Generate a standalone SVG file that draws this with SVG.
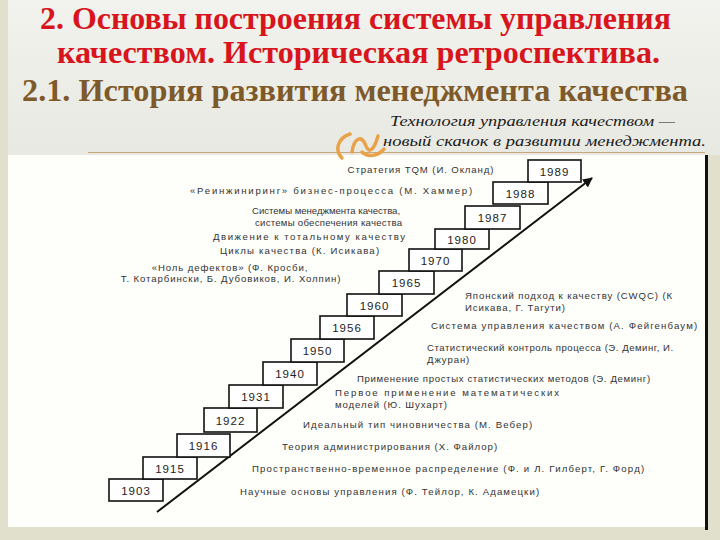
<svg xmlns="http://www.w3.org/2000/svg" width="720" height="540" viewBox="0 0 720 540">
<defs>
<linearGradient id="topbg" x1="0" y1="0" x2="0" y2="1">
<stop offset="0" stop-color="#f2f2ee"/>
<stop offset="1" stop-color="#e9e9e3"/>
</linearGradient>
<marker id="ah" viewBox="0 0 10 10" refX="9" refY="5" markerWidth="5" markerHeight="5" orient="auto" markerUnits="strokeWidth">
<path d="M0,0 L10,5 L0,10 z" fill="#111"/>
</marker>
<style>
.t1{font-family:"Liberation Serif","DejaVu Serif","Times New Roman",serif;font-weight:bold;font-size:31px;fill:#d8141c}
.t2{font-family:"Liberation Serif","DejaVu Serif","Times New Roman",serif;font-weight:bold;font-size:32px;fill:#7e5a2a}
.it{font-family:"Liberation Serif","DejaVu Serif","Times New Roman",serif;font-style:italic;font-size:15px;fill:#1a1a1a}
.box{fill:#ffffff;stroke:#111;stroke-width:1.6}
.yr{font-family:"Liberation Sans",Arial,sans-serif;font-size:11.5px;fill:#222;text-anchor:middle;letter-spacing:1px}
.lb{font-family:"Liberation Sans",Arial,sans-serif;font-size:9.6px;fill:#333;letter-spacing:0.9px}
.lc{text-anchor:middle}
</style>
</defs>
<rect x="0" y="0" width="720" height="540" fill="#e1e0cc"/>
<rect x="8" y="0" width="712" height="155" fill="url(#topbg)"/>
<rect x="8" y="155" width="697" height="372" fill="#fefefb"/>
<rect x="705" y="155" width="3" height="375" fill="#111"/>
<line x1="88" y1="152.5" x2="705" y2="152.5" stroke="#c9a57a" stroke-width="1.2"/>
<g id="ornament" fill="none" stroke="#eaa24a" stroke-width="3.5" stroke-linecap="round">
<path d="M350,134 C338,138 334,150 342,158"/>
<path d="M352,152 C354,138 362,134 366,146 C369,154 374,150 378,136"/>
<path d="M362,152 C368,158 378,156 384,149"/>
</g>
<g id="title">
<text class="t1" x="40" y="29" textLength="631" lengthAdjust="spacingAndGlyphs">2. Основы построения системы управления</text>
<text class="t1" x="57" y="63" textLength="603" lengthAdjust="spacingAndGlyphs">качеством. Историческая ретроспектива.</text>
<text class="t2" x="22" y="101" textLength="666" lengthAdjust="spacingAndGlyphs">2.1. История развития менеджмента качества</text>
<text class="it" x="390" y="126" textLength="285" lengthAdjust="spacingAndGlyphs">Технология управления качеством —</text>
<text class="it" x="383" y="146" textLength="323" lengthAdjust="spacingAndGlyphs">новый скачок в развитии менеджмента.</text>
</g>
<g id="connectors">
<line x1="157" y1="512" x2="592" y2="178" stroke="#111" stroke-width="2" marker-end="url(#ah)"/>
</g>
<g id="y1903"><rect class="box" x="109" y="479" width="54" height="22"/><text class="yr" x="136" y="494.5">1903</text></g>
<g id="y1915"><rect class="box" x="143" y="457" width="54" height="22"/><text class="yr" x="170" y="472.5">1915</text></g>
<g id="y1916"><rect class="box" x="177" y="434" width="53" height="23"/><text class="yr" x="203.5" y="450">1916</text></g>
<g id="y1922"><rect class="box" x="204" y="408" width="53" height="24"/><text class="yr" x="230.5" y="424.5">1922</text></g>
<g id="y1931"><rect class="box" x="229" y="385" width="54" height="23"/><text class="yr" x="256" y="401">1931</text></g>
<g id="y1940"><rect class="box" x="263" y="362" width="54" height="23"/><text class="yr" x="290" y="378">1940</text></g>
<g id="y1950"><rect class="box" x="291" y="339" width="53" height="23"/><text class="yr" x="317.5" y="355">1950</text></g>
<g id="y1956"><rect class="box" x="320" y="316" width="54" height="23"/><text class="yr" x="347" y="332">1956</text></g>
<g id="y1960"><rect class="box" x="347" y="294" width="55" height="22"/><text class="yr" x="374.5" y="309.5">1960</text></g>
<g id="y1965"><rect class="box" x="379" y="271" width="55" height="23"/><text class="yr" x="406.5" y="287">1965</text></g>
<g id="y1970"><rect class="box" x="409" y="249" width="53" height="22"/><text class="yr" x="435.5" y="264.5">1970</text></g>
<g id="y1980"><rect class="box" x="435" y="229" width="54" height="20"/><text class="yr" x="462" y="243.5">1980</text></g>
<g id="y1987"><rect class="box" x="465" y="206" width="55" height="23"/><text class="yr" x="492.5" y="222">1987</text></g>
<g id="y1988"><rect class="box" x="493" y="182" width="55" height="22"/><text class="yr" x="520.5" y="197.5">1988</text></g>
<g id="y1989"><rect class="box" x="528" y="160" width="53" height="22"/><text class="yr" x="554.5" y="175.5">1989</text></g>
<g id="labels-left">
<text class="lb lc" x="421" y="172.5">Стратегия TQM (И. Окланд)</text>
<text class="lb" x="190" y="193.5" textLength="283">«Реинжиниринг» бизнес-процесса (М. Хаммер)</text>
<text class="lb" x="252" y="214" textLength="149">Системы менеджмента качества,</text>
<text class="lb" x="255" y="226" textLength="148">системы обеспечения качества</text>
<text class="lb" x="213" y="239.5" textLength="193">Движение к тотальному качеству</text>
<text class="lb" x="220" y="253.5" textLength="160">Циклы качества (К. Исикава)</text>
<text class="lb lc" x="230" y="270.5">«Ноль дефектов» (Ф. Кросби,</text>
<text class="lb lc" x="231" y="282">Т. Котарбински, Б. Дубовиков, И. Холпин)</text>
</g>
<g id="labels-right">
<text class="lb" x="465" y="299">Японский подход к качеству (CWQC) (К</text>
<text class="lb" x="465" y="311">Исикава, Г. Тагути)</text>
<text class="lb" x="431" y="329" textLength="267">Система управления качеством (А. Фейгенбаум)</text>
<text class="lb" x="427" y="351" textLength="247">Статистический контроль процесса (Э. Деминг, И.</text>
<text class="lb" x="427" y="363">Джуран)</text>
<text class="lb" x="357" y="381.5" textLength="294">Применение простых статистических методов (Э. Деминг)</text>
<text class="lb" x="335" y="396" textLength="225">Первое применение математических</text>
<text class="lb" x="335" y="408">моделей (Ю. Шухарт)</text>
<text class="lb" x="303" y="428" textLength="230">Идеальный тип чиновничества (М. Вебер)</text>
<text class="lb" x="282" y="450" textLength="216">Теория администрирования (Х. Файлор)</text>
<text class="lb" x="252" y="472" textLength="393">Пространственно-временное распределение (Ф. и Л. Гилберт, Г. Форд)</text>
<text class="lb" x="240" y="495" textLength="300">Научные основы управления (Ф. Тейлор, К. Адамецки)</text>
</g>
</svg>
